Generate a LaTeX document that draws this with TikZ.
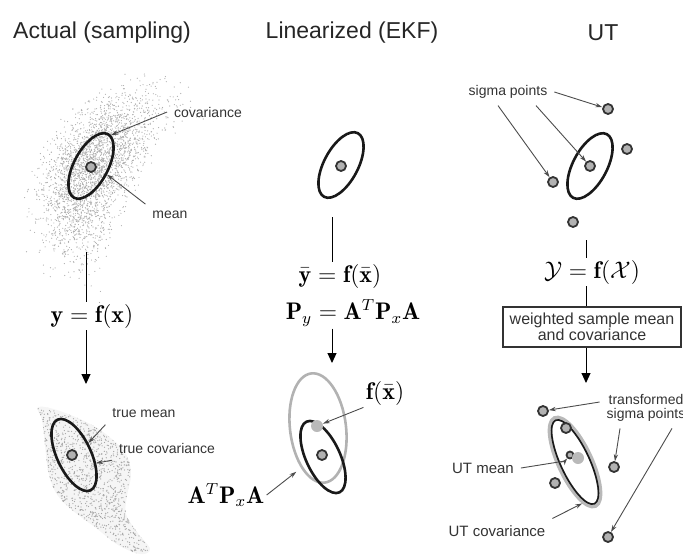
\documentclass[tikz,border=0pt]{standalone}
\usepackage{fontspec}
\newfontfamily\helv{Liberation Sans}
\usetikzlibrary{shapes.geometric,arrows.meta,positioning,calc}

\begin{document}
\begin{tikzpicture}[x=0.5pt, y=-0.5pt, every node/.style={font=\helv\fontsize{7}{8}\selectfont, text=black!80}]
  \tikzset{
    ttl/.style={font=\helv\fontsize{11.5}{13}\selectfont, text=black!85},
    eqn/.style={font=\fontsize{12}{14}\selectfont, text=black, inner sep=1pt},
    cov/.style={ellipse, draw=black!90, line width=1.3pt, inner sep=0pt, minimum width=36pt, minimum height=17pt},
    spt/.style={circle, draw=black!80, fill=gray!60, line width=0.9pt, inner sep=0pt, minimum size=5pt},
    gpt/.style={circle, fill=gray!55, inner sep=0pt, minimum size=6pt},
    wbox/.style={rectangle, draw=black!80, line width=0.6pt, minimum width=89pt, minimum height=20pt, align=center, inner sep=1pt, font=\helv\fontsize{8}{8}\selectfont},
    lead/.style={-{Stealth[length=3.5pt,width=2.2pt]}, draw=black!70, line width=0.45pt},
    flow/.style={-{Triangle[length=5pt,width=4.5pt]}, draw=black, line width=0.5pt},
    link/.style={draw=black, line width=0.5pt}
  }
  \useasboundingbox (0,0) rectangle (683,556);

  % titles
  \node[ttl] (tA) at (102,33) {Actual (sampling)};
  \node[ttl] (tE) at (352,33) {Linearized (EKF)};
  \node[ttl] (tU) at (603,33) {UT};

  % sample cloud
  \pgfmathsetseed{7}
  \foreach \i in {1,...,3000}{
    \pgfmathsetmacro{\su}{43*(rand+rand+rand)}
    \pgfmathsetmacro{\sv}{20*(rand+rand+rand)}
    \fill[black!32] ({91+0.469*\su+0.883*\sv+0.0022*\su*\su}, {166-0.883*\su+0.469*\sv+0.0012*\su*\su}) circle (0.3pt);
  }

  % actual: prior
  \node[cov, rotate=62] (covA) at (91,166) {};
  \node[spt] (meanA) at (91,167) {};
  \node (lCov) at (208,112) {covariance};
  \node (lMean) at (170,215) {mean};
  \draw[lead] (lCov.west) -- (covA.-5);
  \draw[lead] (lMean.north west) -- (covA.-90);

  \coordinate (cA) at (86,252);
  \node[eqn] (eqA) at (92,316) {$\mathbf{y}=\mathbf{f}(\mathbf{x})$};
  \draw[link] (cA) -- (cA |- eqA.north);
  \coordinate (aA) at (86,384);
  \draw[flow] (aA |- eqA.south) -- (aA);

  % actual: transformed cloud
  \begin{scope}
    \clip plot[smooth cycle, tension=0.6] coordinates {(38,407) (60,411) (92,425) (113,440) (127,456) (131,475) (127,496) (126,514) (137,532) (150,549) (140,554) (118,545) (96,528) (72,510) (56,493) (48,470) (45,445) (42,420)};
    \fill[gray!8] (30,400) rectangle (160,556);
    \foreach \i in {1,...,2200}{
      \fill[black!35] ({94+58*rand},{480+76*rand}) circle (0.32pt);
    }
  \end{scope}
  \node[cov, minimum width=39pt, rotate=115] (covA2) at (74,455) {};
  \node[spt] (meanA2) at (72,455) {};
  \node (lTM) at (144,413) {true mean};
  \node (lTC) at (167,448) {true covariance};
  \draw[lead] (lTM.south west) -- (covA2.-75);
  \draw[lead] (lTC.south west) -- (covA2.-135);

  % linearized
  \node[cov, rotate=62] (covE) at (341,165) {};
  \node[spt] (meanE) at (341,166) {};
  \coordinate (cE) at (332,217);
  \node[eqn] (eqE1) at (340,276) {$\bar{\mathbf{y}}=\mathbf{f}(\bar{\mathbf{x}})$};
  \node[eqn] (eqE2) at (353,313) {$\mathbf{P}_y=\mathbf{A}^T\mathbf{P}_x\mathbf{A}$};
  \draw[link] (cE) -- (cE |- eqE1.north);
  \coordinate (aE) at (332,363);
  \draw[flow] (aE |- eqE2.south) -- (aE);

  \node[cov, draw=gray!60, minimum width=55pt, minimum height=28pt, rotate=97] (covEg) at (318,428) {};
  \node[cov, minimum width=39pt, rotate=115] (covE2) at (323,457) {};
  \node[gpt] (fE) at (317,426) {};
  \node[spt] (meanE2) at (322,455) {};
  \node[eqn] (lFx) at (385,393) {$\mathbf{f}(\bar{\mathbf{x}})$};
  \node[eqn] (lAPA) at (226,495) {$\mathbf{A}^T\mathbf{P}_x\mathbf{A}$};
  \draw[lead] (lFx.south west) -- (fE);
  \draw[lead, shorten >=3pt] (lAPA.east) -- (covEg.150);

  % unscented: sigma points
  \node (lSig) at (508,92) {sigma points};
  \node[cov, rotate=62] (covU) at (590,166) {};
  \node[spt] (s0) at (590,166) {};
  \node[spt] (s1) at (608,109) {};
  \node[spt] (s2) at (627,149) {};
  \node[spt] (s3) at (553,182) {};
  \node[spt] (s4) at (573,222) {};
  \draw[lead] (lSig.east) -- (s1);
  \draw[lead] ([xshift=14pt]lSig.south) -- (s0);
  \draw[lead] ([xshift=-5pt]lSig.south) -- (s3);

  \coordinate (cU) at (586,240);
  \node[eqn] (eqU) at (592,272) {$\mathcal{Y}=\mathbf{f}(\mathcal{X})$};
  \draw[link] (cU) -- (cU |- eqU.north);
  \node[wbox] (wsm) at (592,327) {weighted sample mean\\and covariance};
  \draw[link] (cU |- eqU.south) -- (cU |- wsm.north);
  \coordinate (aU) at (586,383);
  \draw[flow] (aU |- wsm.south) -- (aU);

  % unscented: transformed points
  \node[cov, draw=gray!55, line width=2.4pt, minimum width=48pt, minimum height=16pt, rotate=115] (covUg) at (575,462) {};
  \node[cov, line width=0.8pt, minimum width=46pt, minimum height=14.5pt, rotate=115] (covU2) at (575,462) {};
  \node[spt] (t1) at (543,411) {};
  \node[spt] (t2) at (566,428) {};
  \node[spt, minimum size=3.5pt] (tc) at (570,455) {};
  \node[gpt] (uMean) at (578,458) {};
  \node[spt] (t3) at (614,467) {};
  \node[spt] (t4) at (555,483) {};
  \node[spt] (t5) at (608,537) {};
  \node[align=center, font=\helv\fontsize{7}{6.8}\selectfont] (lTr) at (646,408) {transformed\\sigma points};
  \node[font=\helv\fontsize{7.5}{8}\selectfont] (lUm) at (483,468) {UT mean};
  \node[font=\helv\fontsize{7.5}{8}\selectfont] (lUc) at (497,531) {UT covariance};
  \draw[lead] ([yshift=3pt]lTr.west) -- (t1);
  \draw[lead] ([xshift=-13pt]lTr.south) -- (t3);
  \draw[lead] ([xshift=13pt]lTr.south) -- (t5);
  \draw[lead] (lUm.east) -- ($(tc)+(-5,6)$) -- (tc);
  \draw[lead] (lUc.north east) -- (covUg.165);
\end{tikzpicture}
\end{document}
